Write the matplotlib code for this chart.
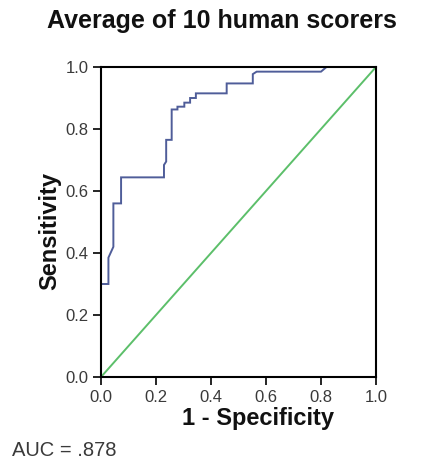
"""ROC curve: average of 10 human scorers."""

import matplotlib
matplotlib.use("Agg")
import matplotlib.pyplot as plt

plt.rcParams["font.family"] = ["Liberation Sans", "DejaVu Sans"]

# ROC vertices
fpr = [0.0, 0.0, 0.027, 0.027, 0.045, 0.045, 0.073, 0.073, 0.229, 0.229, 0.237,
       0.237, 0.257, 0.257, 0.278, 0.278, 0.303, 0.303, 0.324, 0.324, 0.345,
       0.345, 0.457, 0.457, 0.552, 0.552, 0.566, 0.80, 0.82, 1.0]
tpr = [0.0, 0.30, 0.30, 0.385, 0.42, 0.56, 0.56, 0.644, 0.644, 0.684, 0.695,
       0.765, 0.765, 0.863, 0.863, 0.872, 0.872, 0.885, 0.885, 0.90, 0.90,
       0.915, 0.915, 0.947, 0.947, 0.977, 0.985, 0.985, 1.0, 1.0]
ref_line = [0.0, 1.0]
ticks = [0.0, 0.2, 0.4, 0.6, 0.8, 1.0]
auc_text = "AUC = .878"

fig = plt.figure(figsize=(4.27, 4.73), dpi=100)
ax = fig.add_axes([101 / 427, 1 - 377 / 473, 275 / 427, 310 / 473])

ax.plot(fpr, tpr, color="#4f5d99", linewidth=1.4, solid_joinstyle="miter")
ax.plot(ref_line, ref_line, color="#5cbf6a", linewidth=1.4)

ax.set_xlim(0, 1)
ax.set_ylim(0, 1)
ax.set_xticks(ticks)
ax.set_yticks(ticks)
ax.set_xticklabels([f"{t:.1f}" for t in ticks])
ax.set_yticklabels([f"{t:.1f}" for t in ticks])
ax.tick_params(direction="out", length=6, width=1.2, colors="black",
               labelsize=12, labelcolor="#3a3a3a", pad=3)
for spine in ax.spines.values():
    spine.set_linewidth(1.5)
    spine.set_color("black")

fig.text(222 / 427, 1 - 21 / 473, "Average of 10 human scorers", ha="center",
         va="center", fontsize=18, fontweight="bold", color="#111111")
fig.text(258 / 427, 1 - 418 / 473, "1 - Specificity", ha="center", va="center",
         fontsize=17, fontweight="bold", color="#111111")
fig.text(50 / 427, 1 - 231 / 473, "Sensitivity", ha="center", va="center",
         rotation=90, fontsize=17, fontweight="bold", color="#111111")
fig.text(12 / 427, 1 - 450 / 473, auc_text, ha="left", va="center",
         fontsize=14.5, color="#3a3a3a")

fig.savefig("out.png", dpi=100)
plt.close(fig)
